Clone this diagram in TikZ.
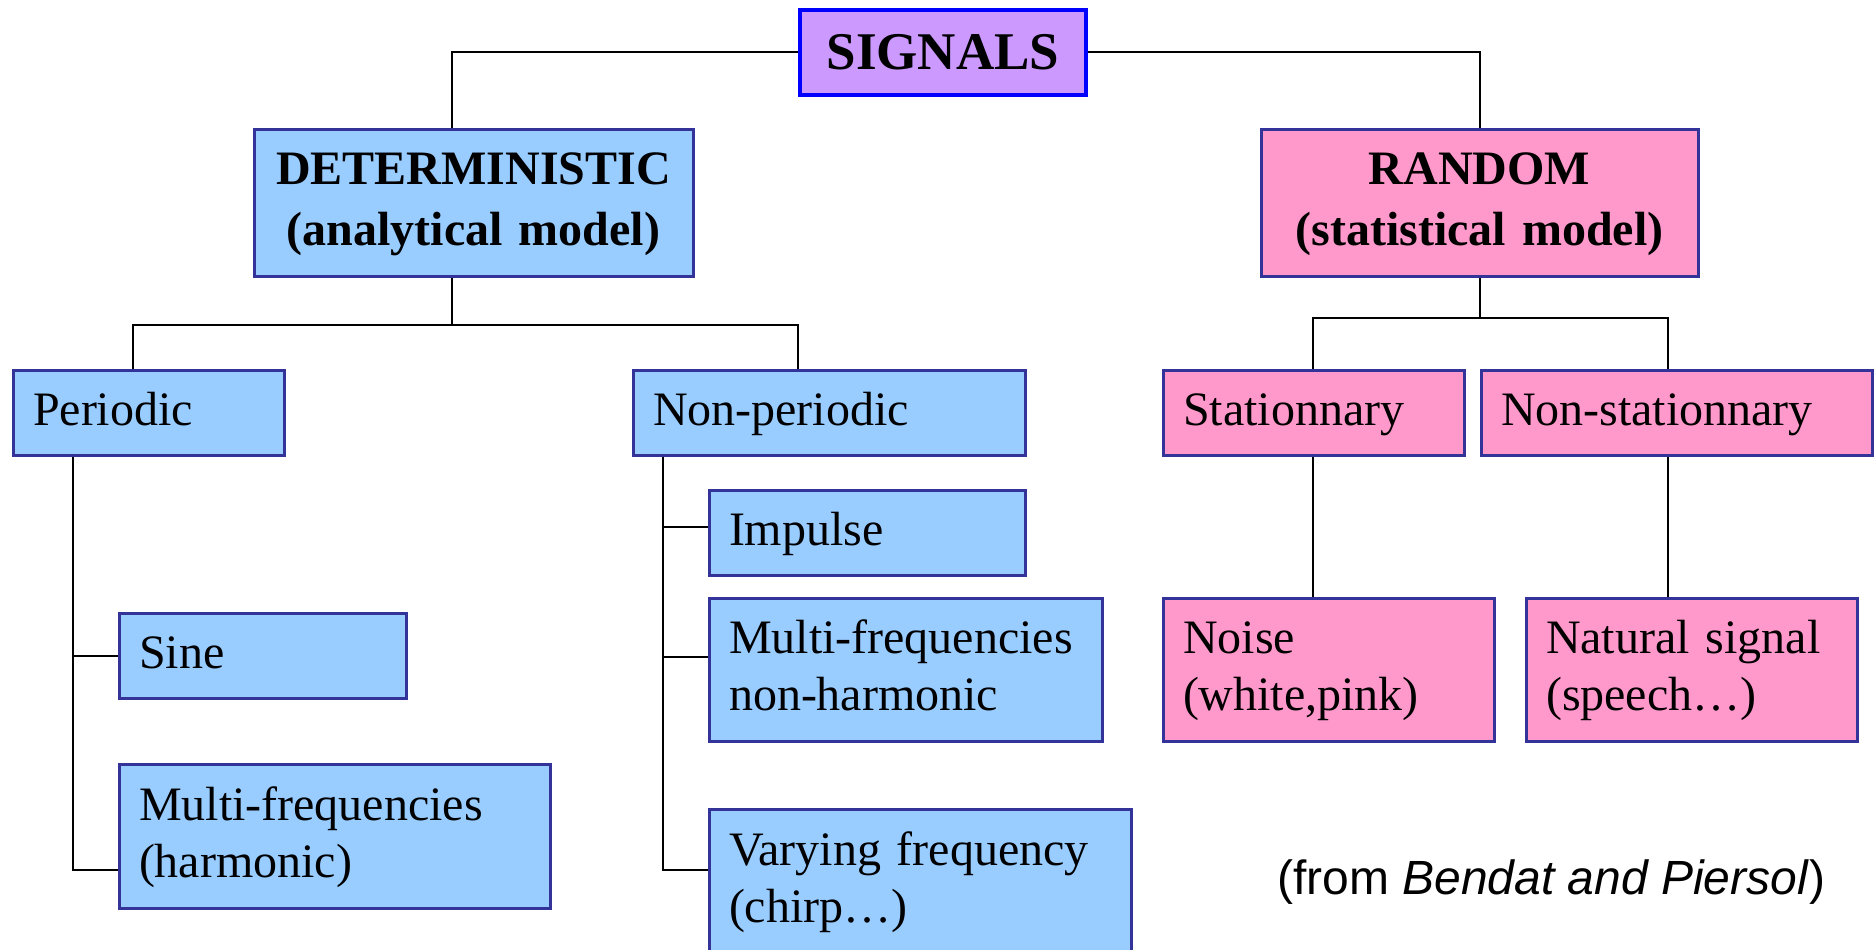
\documentclass[tikz,border=0pt]{standalone}
\usepackage{fontspec}
\setmainfont{Liberation Serif}
\newfontfamily\srcfont{Liberation Sans}
\definecolor{detblue}{HTML}{99CCFF}
\definecolor{randpink}{HTML}{FF99CC}
\definecolor{sigpurple}{HTML}{CC99FF}
\definecolor{edgeblue}{HTML}{333399}
\definecolor{sigedge}{HTML}{0000FF}
\tikzset{
  box/.style={draw=edgeblue, line width=3pt, anchor=north west, inner xsep=20pt, inner ysep=2pt,
    align=left, font=\fontsize{48}{57}\selectfont,
    execute at begin node={\rule{0pt}{36pt}},
    execute at end node={\rule[-11pt]{0pt}{11pt}}},
  detbox/.style={box, fill=detblue},
  randbox/.style={box, fill=randpink},
  head/.style={align=center, font=\bfseries\fontsize{48}{61}\selectfont},
  conn/.style={line width=2pt, black},
}
\begin{document}
\begin{tikzpicture}[x=1pt,y=-1pt]
\clip (0,0) rectangle (1874,950);
% root
\node[draw=sigedge, line width=4pt, fill=sigpurple, anchor=north west, minimum width=286pt, minimum height=85pt,
  inner sep=0pt, font=\bfseries\fontsize{53}{60}\selectfont] (signals) at (798,8) {SIGNALS};
% level 1
\node[detbox, head, text width=399pt, minimum height=147pt] (det) at (252.5,127.5) {DETERMINISTIC\\(analytical model)};
\node[randbox, head, text width=397pt, minimum height=147pt] (random) at (1259.5,127.5) {RANDOM\\(statistical model)};
% level 2
\node[detbox, text width=231pt, minimum height=85pt] (periodic) at (11.5,368.5) {Periodic};
\node[detbox, text width=352pt, minimum height=85pt] (nonper) at (631.5,368.5) {Non-periodic};
\node[randbox, text width=261pt, minimum height=85pt] (stat) at (1161.5,368.5) {Stationnary};
\node[randbox, text width=351pt, minimum height=85pt] (nonstat) at (1479.5,368.5) {Non-stationnary};
% level 3
\node[detbox, text width=276pt, minimum height=85pt] (impulse) at (707.5,488.5) {Impulse};
\node[detbox, text width=247pt, minimum height=85pt] (sine) at (117.5,611.5) {Sine};
\node[detbox, text width=353pt, minimum height=143pt] (mfnh) at (707.5,596.5) {Multi-frequencies\\non-harmonic};
\node[randbox, text width=291pt, minimum height=143pt] (noise) at (1161.5,596.5) {Noise\\(white,pink)};
\node[randbox, text width=291pt, minimum height=143pt] (natural) at (1524.5,596.5) {Natural signal\\(speech…)};
\node[detbox, text width=391pt, minimum height=144pt] (mfh) at (117.5,762.5) {Multi-frequencies\\(harmonic)};
\node[detbox, text width=382pt, minimum height=145pt] (vary) at (707.5,807.5) {Varying frequency\\(chirp…)};
% source
\node[font=\srcfont\fontsize{48}{57}\selectfont] (src) at (1551,882) {(from \textit{Bendat and Piersol})};
% connector coordinates
\coordinate (dtap) at (452,325);
\coordinate (rtap) at (1480,318);
\coordinate (ptx) at (133,0);
\coordinate (nptx) at (798,0);
\coordinate (stx) at (1313,0);
\coordinate (nstx) at (1668,0);
\coordinate (pvx) at (73,0);
\coordinate (npvx) at (663,0);
\coordinate (br1) at (0,527);
\coordinate (br2) at (0,657);
\coordinate (br3) at (0,870);
% connectors
\draw[conn] (signals.west) -| (det.north -| dtap);
\draw[conn] (signals.east) -| (random.north);
\draw[conn] (det.south -| dtap) -- (dtap);
\draw[conn] (periodic.north -| ptx) -- (ptx |- dtap) -- (nptx |- dtap) -- (nonper.north -| nptx);
\draw[conn] (random.south) -- (random.south |- rtap);
\draw[conn] (stat.north -| stx) -- (stx |- rtap) -- (nstx |- rtap) -- (nonstat.north -| nstx);
\draw[conn] (stat.south -| stx) -- (noise.north -| stx);
\draw[conn] (nonstat.south -| nstx) -- (natural.north -| nstx);
\draw[conn] (periodic.south -| pvx) -- (pvx |- br3) -- (mfh.west |- br3);
\draw[conn] (pvx |- sine.west) -- (sine.west);
\draw[conn] (nonper.south -| npvx) -- (npvx |- br3) -- (vary.west |- br3);
\draw[conn] (npvx |- br1) -- (impulse.west |- br1);
\draw[conn] (npvx |- br2) -- (mfnh.west |- br2);
\end{tikzpicture}
\end{document}
